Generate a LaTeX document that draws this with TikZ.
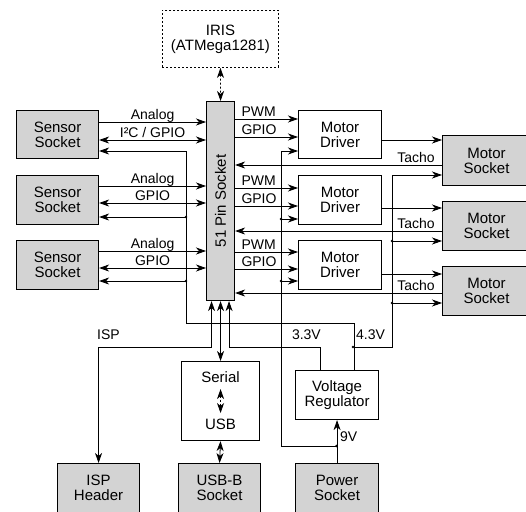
\documentclass[tikz,border=0pt]{standalone}
\usepackage{fontspec}
\setmainfont{Liberation Sans}
\usetikzlibrary{arrows.meta}
\definecolor{boxgray}{RGB}{211,211,211}
\tikzset{
  gb/.style={draw,line width=1.1pt,fill=boxgray,anchor=north west,align=center,inner sep=0pt,font=\fontsize{15}{15}\selectfont},
  wb/.style={gb,fill=white},
  sg/.style={line width=0.8pt,->},
  bi/.style={line width=0.8pt,<->},
  lbl/.style={font=\fontsize{14}{14}\selectfont,inner sep=0pt,anchor=base,yshift=3pt},
  dt/.style={dash pattern=on 2pt off 2pt}
}

\begin{document}
\begin{tikzpicture}[x=1pt,y=-1pt,>={Stealth[length=10pt,width=7pt,inset=3pt]}]
\useasboundingbox (0,0) rectangle (526,511);
\node[wb,dt,line width=0.9pt,minimum width=116pt,minimum height=57pt] (iris) at (162,10) {IRIS\\(ATMega1281)};
\node[gb,minimum width=28pt,minimum height=199pt] (pin) at (206,101) {\rotatebox{90}{51 Pin Socket}};
\node[gb,minimum width=82pt,minimum height=48pt] (s1) at (16,110) {Sensor\\Socket};
\node[gb,minimum width=82pt,minimum height=49pt] (s2) at (16,175) {Sensor\\Socket};
\node[gb,minimum width=82pt,minimum height=49pt] (s3) at (16,240) {Sensor\\Socket};
\node[wb,minimum width=83pt,minimum height=48pt] (d1) at (298,110) {Motor\\Driver};
\node[wb,minimum width=83pt,minimum height=49pt] (d2) at (298,175) {Motor\\Driver};
\node[wb,minimum width=83pt,minimum height=49pt] (d3) at (298,240) {Motor\\Driver};
\node[gb,minimum width=88pt,minimum height=50pt] (m1) at (442,135) {Motor\\Socket};
\node[gb,minimum width=88pt,minimum height=49pt] (m2) at (442,201) {Motor\\Socket};
\node[gb,minimum width=88pt,minimum height=49pt] (m3) at (442,266) {Motor\\Socket};
\node[wb,minimum width=78pt,minimum height=79pt] (ser) at (181,361) {Serial\\[32pt]USB};
\node[wb,minimum width=83pt,minimum height=49pt] (reg) at (295,370) {Voltage\\Regulator};
\node[gb,minimum width=82pt,minimum height=49pt] (isp) at (57,463) {ISP\\Header};
\node[gb,minimum width=82pt,minimum height=49pt] (usb) at (178,463) {USB-B\\Socket};
\node[gb,minimum width=83pt,minimum height=49pt] (pw) at (295,463) {Power\\Socket};
\draw[bi,dt] (iris.south) -- (pin.north);
\draw[bi,dt] ([yshift=12pt]ser.center) -- ([yshift=-12pt]ser.center);
\draw[bi] (ser.south) -- (usb.north);
\draw[sg] (s1.east|-0,122) -- (pin.west|-0,122) node[lbl,midway] (a1) {Analog};
\draw[bi] (s1.east|-0,140) -- (pin.west|-0,140) node[lbl,midway] (g1) {I²C / GPIO};
\draw[sg] (s2.east|-0,186) -- (pin.west|-0,186) node[lbl,midway] (a2) {Analog};
\draw[bi] (s2.east|-0,203) -- (pin.west|-0,203) node[lbl,midway] (g2) {GPIO};
\draw[sg] (s3.east|-0,251) -- (pin.west|-0,251) node[lbl,midway] (a3) {Analog};
\draw[bi] (s3.east|-0,268) -- (pin.west|-0,268) node[lbl,midway] (g3) {GPIO};
\draw[sg] (pin.east|-0,119) -- (d1.west|-0,119) node[lbl,pos=0,anchor=base west,xshift=6pt] (p1) {PWM};
\draw[sg] (pin.east|-0,137) -- (d1.west|-0,137) node[lbl,pos=0,anchor=base west,xshift=6pt] (q1) {GPIO};
\draw[sg] (pin.east|-0,188) -- (d2.west|-0,188) node[lbl,pos=0,anchor=base west,xshift=6pt] (p2) {PWM};
\draw[sg] (pin.east|-0,206) -- (d2.west|-0,206) node[lbl,pos=0,anchor=base west,xshift=6pt] (q2) {GPIO};
\draw[sg] (pin.east|-0,252) -- (d3.west|-0,252) node[lbl,pos=0,anchor=base west,xshift=6pt] (p3) {PWM};
\draw[sg] (pin.east|-0,269) -- (d3.west|-0,269) node[lbl,pos=0,anchor=base west,xshift=6pt] (q3) {GPIO};
\draw[sg] (d1.east|-0,140) -- (m1.west|-0,140); \draw[sg] (d2.east|-0,208) -- (m2.west|-0,208); \draw[sg] (d3.east|-0,274) -- (m3.west|-0,274);
\draw[sg] (m1.west|-0,165) -- (pin.east|-0,165) node[lbl,pos=0,anchor=base east,xshift=-7pt] (t1) {Tacho};
\draw[sg] (m2.west|-0,231) -- (pin.east|-0,231) node[lbl,pos=0,anchor=base east,xshift=-7pt] (t2) {Tacho};
\draw[sg] (m3.west|-0,293) -- (pin.east|-0,293) node[lbl,pos=0,anchor=base east,xshift=-7pt] (t3) {Tacho};
\draw[sg] ([xshift=17pt]reg.north) |- (186,323) |- (s1.east|-0,151);
\draw[sg] (186,217) -- (s2.east|-0,217); \draw[sg] (186,281) -- (s3.east|-0,281);
\draw[sg] ([xshift=17pt]reg.north|-0,347) -| (392,175) -- (m1.west|-0,175);
\draw[sg] (392,241) -- (m2.west|-0,241); \draw[sg] (392,303) -- (m3.west|-0,303);
\draw[sg] (pw.north) -- (reg.south);
\draw[sg] (pw.north|-0,446) -| (281,151) -- (d1.west|-0,151);
\draw[sg] (281,219) -- (d2.west|-0,219); \draw[sg] (281,281) -- (d3.west|-0,281);
\draw[bi] ([xshift=-9pt]pin.south) |- (isp.north|-0,347) -- (isp.north);
\draw[bi] (pin.south) -- (pin.south|-ser.north);
\draw[sg] ([xshift=-16.5pt]reg.north) |- ([xshift=8.5pt]pin.south|-0,347) -- ([xshift=8.5pt]pin.south);
\fill (186,217) circle (1.3pt) (186,281) circle (1.3pt) (392,241) circle (1.3pt) (392,303) circle (1.3pt);
\fill (281,219) circle (1.3pt) (281,281) circle (1.3pt) (353,347) circle (1.3pt) (336.5,446) circle (1.3pt);
\node[lbl,anchor=base west] (l1) at (97,342) {ISP}; \node[lbl,anchor=base east] (l2) at (321,342) {3.3V};
\node[lbl,anchor=base west] (l3) at (356,342) {4.3V}; \node[lbl,anchor=base west] (l4) at (340,444) {9V};
\end{tikzpicture}
\end{document}
